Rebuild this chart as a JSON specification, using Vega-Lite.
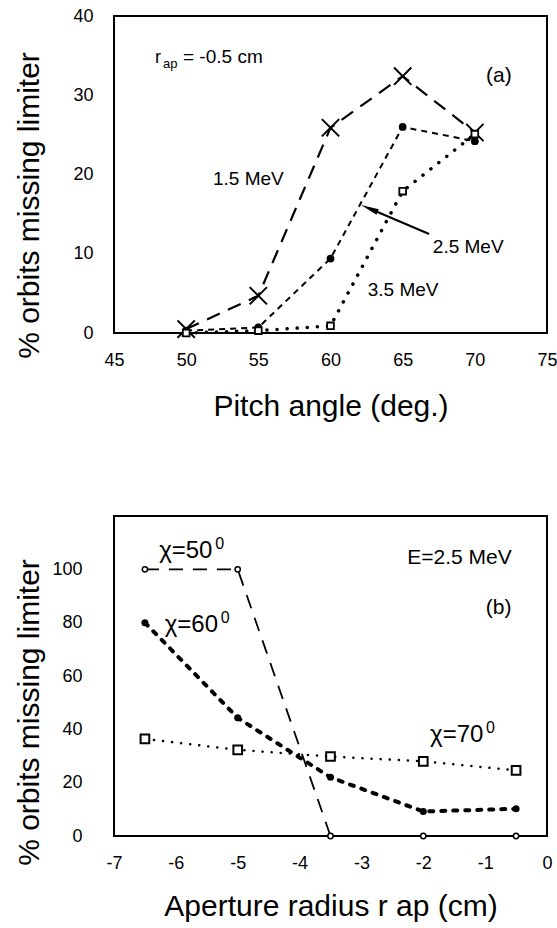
{
  "$schema": "https://vega.github.io/schema/vega-lite/v6.json",
  "padding": {"left": 13, "top": 6, "right": 0, "bottom": 0},
  "spacing": 93,
  "config": {
    "font": "Liberation Sans",
    "view": {"stroke": "black", "strokeWidth": 2},
    "axis": {
      "domain": false,
      "grid": false,
      "ticks": true,
      "tickSize": 0,
      "labelFont": "Liberation Sans",
      "labelFontSize": 18,
      "labelColor": "black",
      "labelFlush": false,
      "labelOverlap": false,
      "titleFont": "Liberation Sans",
      "titleFontSize": 30,
      "titleFontWeight": "normal",
      "titleColor": "black"
    },
    "text": {"font": "Liberation Sans", "color": "black", "align": "left", "baseline": "alphabetic"}
  },
  "datasets": {
    "pitchScan": [
      {"E": "1.5 MeV", "pitch": 50, "pct": 0.5},
      {"E": "1.5 MeV", "pitch": 55, "pct": 4.7},
      {"E": "1.5 MeV", "pitch": 60, "pct": 25.9},
      {"E": "1.5 MeV", "pitch": 65, "pct": 32.4},
      {"E": "1.5 MeV", "pitch": 70, "pct": 25.3},
      {"E": "2.5 MeV", "pitch": 50, "pct": 0.3},
      {"E": "2.5 MeV", "pitch": 55, "pct": 0.7},
      {"E": "2.5 MeV", "pitch": 60, "pct": 9.4},
      {"E": "2.5 MeV", "pitch": 65, "pct": 26.0},
      {"E": "2.5 MeV", "pitch": 70, "pct": 24.2},
      {"E": "3.5 MeV", "pitch": 50, "pct": 0.0},
      {"E": "3.5 MeV", "pitch": 55, "pct": 0.3},
      {"E": "3.5 MeV", "pitch": 60, "pct": 0.9},
      {"E": "3.5 MeV", "pitch": 65, "pct": 17.9},
      {"E": "3.5 MeV", "pitch": 70, "pct": 25.1}
    ],
    "apertureScan": [
      {"chi": 50, "rap": -6.5, "pct": 100},
      {"chi": 50, "rap": -5.0, "pct": 100},
      {"chi": 50, "rap": -3.5, "pct": 0},
      {"chi": 50, "rap": -2.0, "pct": 0},
      {"chi": 50, "rap": -0.5, "pct": 0},
      {"chi": 60, "rap": -6.5, "pct": 80},
      {"chi": 60, "rap": -5.0, "pct": 44.3},
      {"chi": 60, "rap": -3.5, "pct": 22},
      {"chi": 60, "rap": -2.0, "pct": 9.2},
      {"chi": 60, "rap": -0.5, "pct": 10.2},
      {"chi": 70, "rap": -6.5, "pct": 36.4},
      {"chi": 70, "rap": -5.0, "pct": 32.3},
      {"chi": 70, "rap": -3.5, "pct": 29.8},
      {"chi": 70, "rap": -2.0, "pct": 28.0},
      {"chi": 70, "rap": -0.5, "pct": 24.6}
    ],
    "pitchTicks": [
      {"pitch": 46}, {"pitch": 47}, {"pitch": 48}, {"pitch": 49}, {"pitch": 50},
      {"pitch": 51}, {"pitch": 52}, {"pitch": 53}, {"pitch": 54}, {"pitch": 55},
      {"pitch": 56}, {"pitch": 57}, {"pitch": 58}, {"pitch": 59}, {"pitch": 60},
      {"pitch": 61}, {"pitch": 62}, {"pitch": 63}, {"pitch": 64}, {"pitch": 65},
      {"pitch": 66}, {"pitch": 67}, {"pitch": 68}, {"pitch": 69}, {"pitch": 70},
      {"pitch": 71}, {"pitch": 72}, {"pitch": 73}, {"pitch": 74}
    ],
    "pctTicksTop": [
      {"pct": 1}, {"pct": 2}, {"pct": 3}, {"pct": 4}, {"pct": 5}, {"pct": 6}, {"pct": 7}, {"pct": 8}, {"pct": 9}, {"pct": 10},
      {"pct": 11}, {"pct": 12}, {"pct": 13}, {"pct": 14}, {"pct": 15}, {"pct": 16}, {"pct": 17}, {"pct": 18}, {"pct": 19}, {"pct": 20},
      {"pct": 21}, {"pct": 22}, {"pct": 23}, {"pct": 24}, {"pct": 25}, {"pct": 26}, {"pct": 27}, {"pct": 28}, {"pct": 29}, {"pct": 30},
      {"pct": 31}, {"pct": 32}, {"pct": 33}, {"pct": 34}, {"pct": 35}, {"pct": 36}, {"pct": 37}, {"pct": 38}, {"pct": 39}
    ],
    "rapTicks": [
      {"rap": -6.8}, {"rap": -6.6}, {"rap": -6.4}, {"rap": -6.2}, {"rap": -6},
      {"rap": -5.8}, {"rap": -5.6}, {"rap": -5.4}, {"rap": -5.2}, {"rap": -5},
      {"rap": -4.8}, {"rap": -4.6}, {"rap": -4.4}, {"rap": -4.2}, {"rap": -4},
      {"rap": -3.8}, {"rap": -3.6}, {"rap": -3.4}, {"rap": -3.2}, {"rap": -3},
      {"rap": -2.8}, {"rap": -2.6}, {"rap": -2.4}, {"rap": -2.2}, {"rap": -2},
      {"rap": -1.8}, {"rap": -1.6}, {"rap": -1.4}, {"rap": -1.2}, {"rap": -1},
      {"rap": -0.8}, {"rap": -0.6}, {"rap": -0.4}, {"rap": -0.2}
    ],
    "pctTicksBottom": [
      {"pct": 5}, {"pct": 10}, {"pct": 15}, {"pct": 20}, {"pct": 25}, {"pct": 30}, {"pct": 35}, {"pct": 40},
      {"pct": 45}, {"pct": 50}, {"pct": 55}, {"pct": 60}, {"pct": 65}, {"pct": 70}, {"pct": 75}, {"pct": 80},
      {"pct": 85}, {"pct": 90}, {"pct": 95}, {"pct": 100}, {"pct": 105}, {"pct": 110}, {"pct": 115}
    ]
  },
  "vconcat": [
    {
      "width": 433,
      "height": 317,
      "encoding": {
        "x": {
          "field": "pitch", "type": "quantitative",
          "scale": {"domain": [45, 75], "nice": false, "zero": false},
          "axis": {
            "title": "Pitch angle (deg.)",
            "values": [45, 50, 55, 60, 65, 70, 75],
            "labelPadding": 18,
            "titlePadding": 22
          }
        },
        "y": {
          "field": "pct", "type": "quantitative",
          "scale": {"domain": [0, 40], "nice": false},
          "axis": {
            "title": "% orbits missing limiter",
            "values": [0, 10, 20, 30, 40],
            "labelPadding": 21,
            "minExtent": 40,
            "maxExtent": 40,
            "titlePadding": 30,
            "titleY": 189
          }
        }
      },
      "layer": [
        {
          "data": {"name": "pitchTicks"},
          "transform": [{"filter": "datum.pitch % 5 !== 0"}],
          "mark": {"type": "point", "shape": "M0,0L0,-2", "size": 36, "filled": false, "stroke": "black", "strokeWidth": 1.5, "opacity": 1},
          "encoding": {"y": {"datum": 0}}
        },
        {
          "data": {"name": "pitchTicks"},
          "transform": [{"filter": "datum.pitch % 5 === 0"}],
          "mark": {"type": "point", "shape": "M0,0L0,-2", "size": 121, "filled": false, "stroke": "black", "strokeWidth": 1.5, "opacity": 1},
          "encoding": {"y": {"datum": 0}}
        },
        {
          "data": {"name": "pctTicksTop"},
          "transform": [{"filter": "datum.pct % 10 !== 0"}],
          "mark": {"type": "point", "shape": "M0,0L2,0", "size": 49, "filled": false, "stroke": "black", "strokeWidth": 1.5, "opacity": 1},
          "encoding": {"x": {"datum": 45}}
        },
        {
          "data": {"name": "pctTicksTop"},
          "transform": [{"filter": "datum.pct % 10 === 0"}],
          "mark": {"type": "point", "shape": "M0,0L2,0", "size": 121, "filled": false, "stroke": "black", "strokeWidth": 1.5, "opacity": 1},
          "encoding": {"x": {"datum": 45}}
        },
        {
          "data": {"name": "pitchScan"},
          "transform": [{"filter": "datum.E === '1.5 MeV'"}],
          "mark": {"type": "line", "color": "black", "strokeWidth": 2.2, "strokeDash": [14, 9]}
        },
        {
          "data": {"name": "pitchScan"},
          "transform": [{"filter": "datum.E === '1.5 MeV'"}],
          "mark": {"type": "point", "shape": "M-1,-1L1,1M-1,1L1,-1", "size": 300, "filled": false, "stroke": "black", "strokeWidth": 2, "opacity": 1}
        },
        {
          "data": {"name": "pitchScan"},
          "transform": [{"filter": "datum.E === '2.5 MeV'"}],
          "mark": {"type": "line", "color": "black", "strokeWidth": 2, "strokeDash": [6, 5]}
        },
        {
          "data": {"name": "pitchScan"},
          "transform": [{"filter": "datum.E === '2.5 MeV'"}],
          "mark": {"type": "point", "shape": "circle", "size": 60, "filled": true, "fill": "black", "opacity": 1}
        },
        {
          "data": {"name": "pitchScan"},
          "transform": [{"filter": "datum.E === '3.5 MeV'"}],
          "mark": {"type": "line", "color": "black", "strokeWidth": 3.5, "strokeCap": "round", "strokeDash": [0.1, 10]}
        },
        {
          "data": {"name": "pitchScan"},
          "transform": [{"filter": "datum.E === '3.5 MeV'"}],
          "mark": {"type": "point", "shape": "square", "size": 45, "filled": true, "fill": "white", "stroke": "black", "strokeWidth": 1.8, "opacity": 1}
        },
        {
          "data": {"values": [{"pitch": 66.83, "pct": 12.49}, {"pitch": 62.69, "pct": 15.71}]},
          "mark": {"type": "line", "color": "black", "strokeWidth": 2}
        },
        {
          "data": {"values": [{"pitch": 62.69, "pct": 15.71}]},
          "mark": {"type": "point", "shape": "M0,-1L0.32,1L-0.32,1Z", "size": 324, "angle": 293, "filled": true, "fill": "black", "opacity": 1}
        },
        {
          "data": {"values": [{"pitch": 47.84, "pct": 34.1, "label": "r"}]},
          "mark": {"type": "text", "fontSize": 18},
          "encoding": {"text": {"field": "label"}}
        },
        {
          "data": {"values": [{"pitch": 47.84, "pct": 34.1, "label": "ap"}]},
          "mark": {"type": "text", "fontSize": 13, "dx": 8, "dy": 5},
          "encoding": {"text": {"field": "label"}}
        },
        {
          "data": {"values": [{"pitch": 47.84, "pct": 34.1, "label": "= -0.5 cm"}]},
          "mark": {"type": "text", "fontSize": 19, "dx": 28},
          "encoding": {"text": {"field": "label"}}
        },
        {
          "data": {"values": [{"pitch": 70.78, "pct": 31.7, "label": "(a)"}]},
          "mark": {"type": "text", "fontSize": 21},
          "encoding": {"text": {"field": "label"}}
        },
        {
          "data": {"values": [
            {"pitch": 51.86, "pct": 18.7, "label": "1.5 MeV"},
            {"pitch": 67.09, "pct": 10.1, "label": "2.5 MeV"},
            {"pitch": 62.58, "pct": 4.67, "label": "3.5 MeV"}
          ]},
          "mark": {"type": "text", "fontSize": 19},
          "encoding": {"text": {"field": "label"}}
        }
      ]
    },
    {
      "width": 433,
      "height": 320,
      "encoding": {
        "x": {
          "field": "rap", "type": "quantitative",
          "scale": {"domain": [-7, 0], "nice": false, "zero": false},
          "axis": {
            "title": "Aperture radius r ap (cm)",
            "values": [-7, -6, -5, -4, -3, -2, -1, 0],
            "labelExpr": "'' + datum.value",
            "labelPadding": 18,
            "titlePadding": 19
          }
        },
        "y": {
          "field": "pct", "type": "quantitative",
          "scale": {"domain": [0, 120], "nice": false},
          "axis": {
            "title": "% orbits missing limiter",
            "values": [0, 20, 40, 60, 80, 100],
            "labelPadding": 32,
            "minExtent": 40,
            "maxExtent": 40,
            "titlePadding": 30,
            "titleY": 196
          }
        }
      },
      "layer": [
        {
          "data": {"name": "rapTicks"},
          "transform": [{"filter": "abs(datum.rap - round(datum.rap)) > 0.01"}],
          "mark": {"type": "point", "shape": "M0,0L0,-2", "size": 36, "filled": false, "stroke": "black", "strokeWidth": 1.5, "opacity": 1},
          "encoding": {"y": {"datum": 0}}
        },
        {
          "data": {"name": "rapTicks"},
          "transform": [{"filter": "abs(datum.rap - round(datum.rap)) <= 0.01"}],
          "mark": {"type": "point", "shape": "M0,0L0,-2", "size": 121, "filled": false, "stroke": "black", "strokeWidth": 1.5, "opacity": 1},
          "encoding": {"y": {"datum": 0}}
        },
        {
          "data": {"name": "pctTicksBottom"},
          "transform": [{"filter": "datum.pct % 20 !== 0"}],
          "mark": {"type": "point", "shape": "M0,0L2,0", "size": 49, "filled": false, "stroke": "black", "strokeWidth": 1.5, "opacity": 1},
          "encoding": {"x": {"datum": -7}}
        },
        {
          "data": {"name": "pctTicksBottom"},
          "transform": [{"filter": "datum.pct % 20 === 0"}],
          "mark": {"type": "point", "shape": "M0,0L2,0", "size": 121, "filled": false, "stroke": "black", "strokeWidth": 1.5, "opacity": 1},
          "encoding": {"x": {"datum": -7}}
        },
        {
          "data": {"name": "apertureScan"},
          "transform": [{"filter": "datum.chi === 50"}],
          "mark": {"type": "line", "color": "black", "strokeWidth": 1.8, "strokeDash": [14, 10]}
        },
        {
          "data": {"name": "apertureScan"},
          "transform": [{"filter": "datum.chi === 50"}],
          "mark": {"type": "point", "shape": "circle", "size": 28, "filled": true, "fill": "white", "stroke": "black", "strokeWidth": 1.5, "opacity": 1}
        },
        {
          "data": {"name": "apertureScan"},
          "transform": [{"filter": "datum.chi === 60"}],
          "mark": {"type": "line", "color": "black", "strokeWidth": 4, "strokeCap": "round", "strokeDash": [4, 8]}
        },
        {
          "data": {"name": "apertureScan"},
          "transform": [{"filter": "datum.chi === 60"}],
          "mark": {"type": "point", "shape": "circle", "size": 50, "filled": true, "fill": "black", "opacity": 1}
        },
        {
          "data": {"name": "apertureScan"},
          "transform": [{"filter": "datum.chi === 70"}],
          "mark": {"type": "line", "color": "black", "strokeWidth": 2.5, "strokeCap": "round", "strokeDash": [0.1, 9]}
        },
        {
          "data": {"name": "apertureScan"},
          "transform": [{"filter": "datum.chi === 70"}],
          "mark": {"type": "point", "shape": "square", "size": 75, "filled": true, "fill": "white", "stroke": "black", "strokeWidth": 2, "opacity": 1}
        },
        {
          "data": {"values": [
            {"rap": -6.27, "pct": 104.1, "label": "χ=50"},
            {"rap": -6.18, "pct": 76.4, "label": "χ=60"},
            {"rap": -1.89, "pct": 35.2, "label": "χ=70"}
          ]},
          "mark": {"type": "text", "fontSize": 24},
          "encoding": {"text": {"field": "label"}}
        },
        {
          "data": {"values": [
            {"rap": -6.27, "pct": 104.1, "label": "0"},
            {"rap": -6.18, "pct": 76.4, "label": "0"},
            {"rap": -1.89, "pct": 35.2, "label": "0"}
          ]},
          "mark": {"type": "text", "fontSize": 16, "dx": 56, "dy": -9},
          "encoding": {"text": {"field": "label"}}
        },
        {
          "data": {"values": [{"rap": -2.26, "pct": 102, "label": "E=2.5 MeV"}]},
          "mark": {"type": "text", "fontSize": 21},
          "encoding": {"text": {"field": "label"}}
        },
        {
          "data": {"values": [{"rap": -0.99, "pct": 83.1, "label": "(b)"}]},
          "mark": {"type": "text", "fontSize": 21},
          "encoding": {"text": {"field": "label"}}
        }
      ]
    }
  ]
}
